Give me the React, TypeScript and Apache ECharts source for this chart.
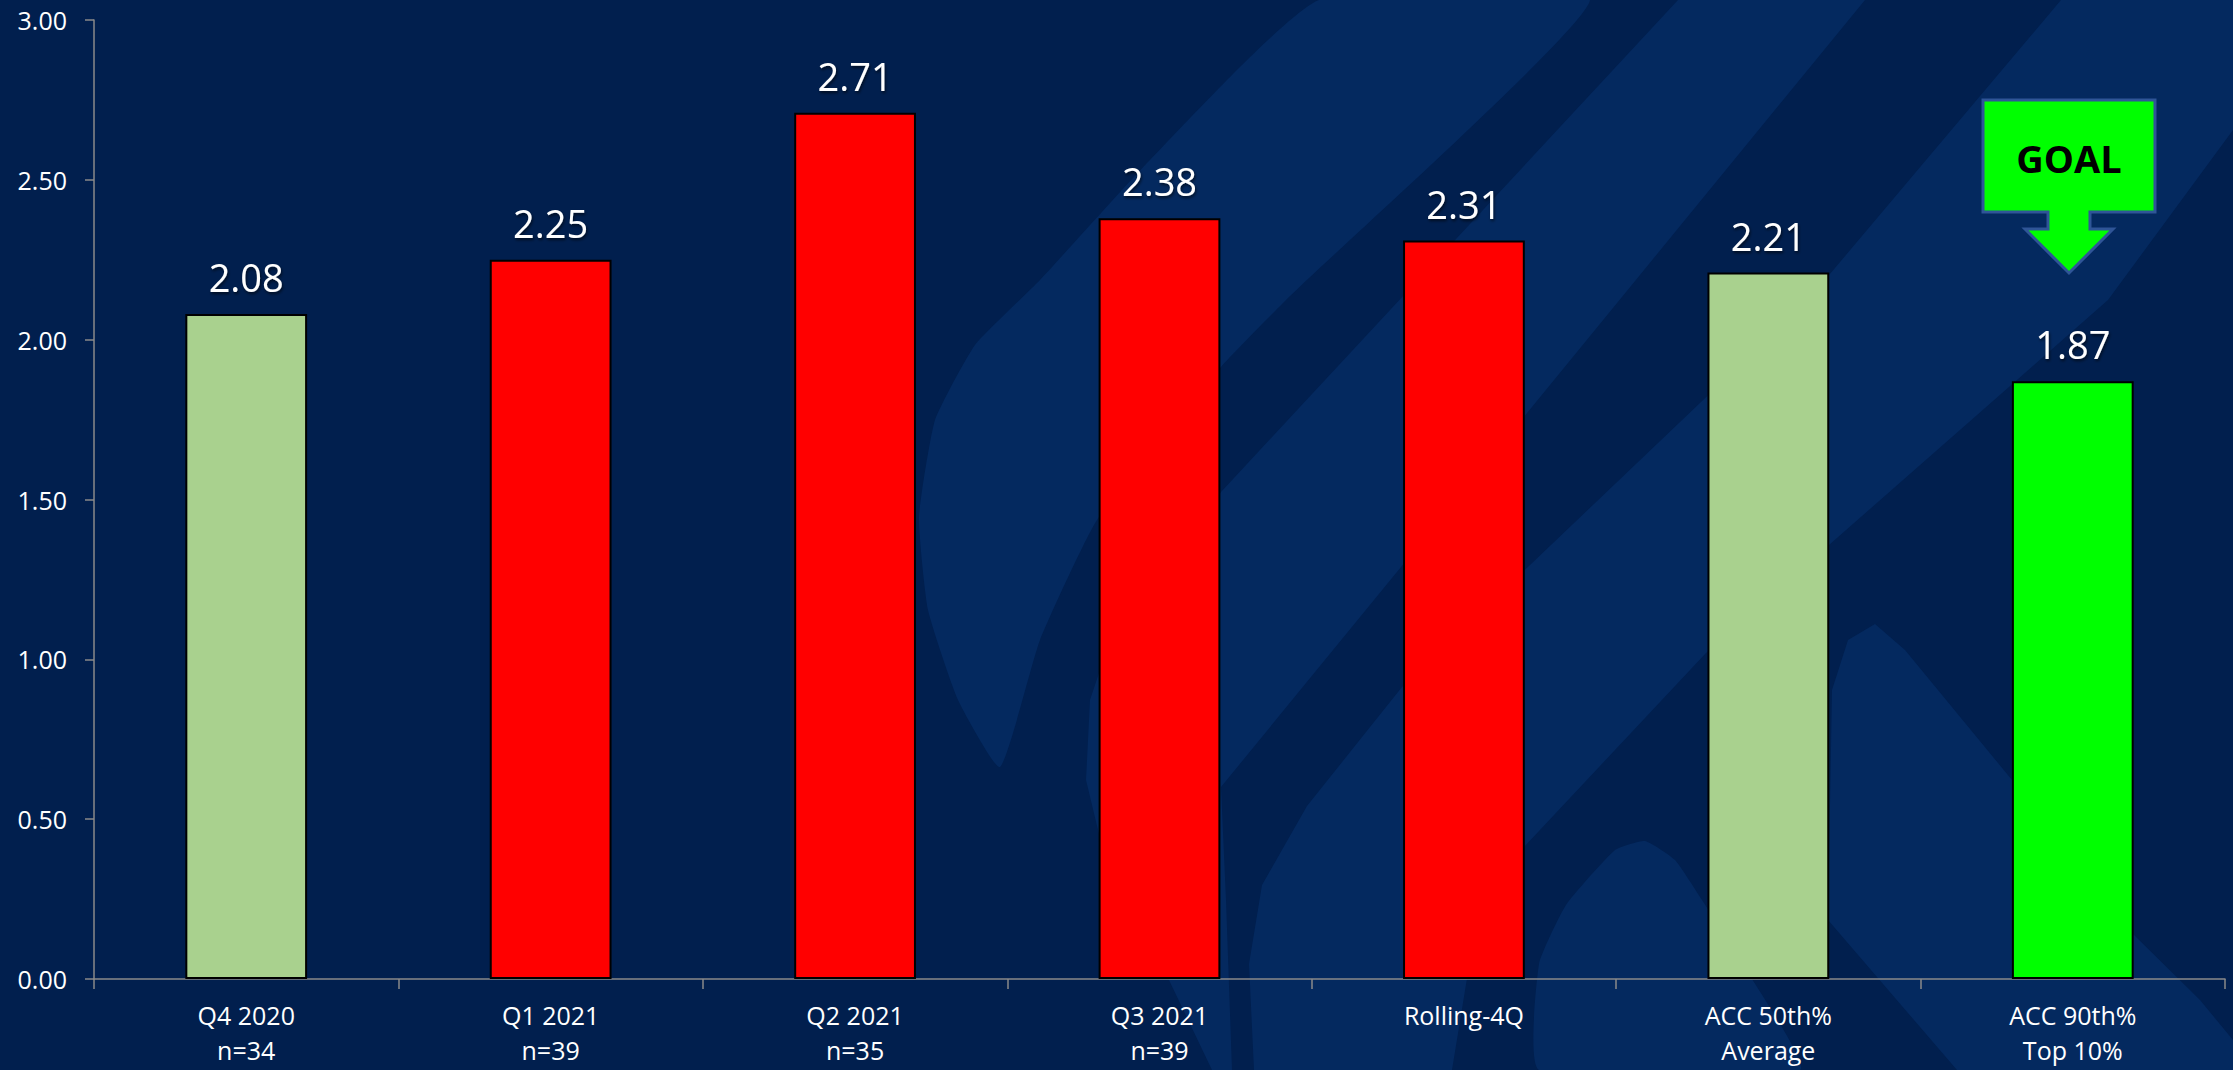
import React, { useEffect, useRef } from "react";
import * as echarts from "echarts";

const categories = [
  "Q4 2020\nn=34",
  "Q1 2021\nn=39",
  "Q2 2021\nn=35",
  "Q3 2021\nn=39",
  "Rolling-4Q",
  "ACC 50th%\nAverage",
  "ACC 90th%\nTop 10%",
];
const values = [2.08, 2.25, 2.71, 2.38, 2.31, 2.21, 1.87];
const barColors = ["#A9D18E", "#FF0000", "#FF0000", "#FF0000", "#FF0000", "#A9D18E", "#00FF00"];
const yMin = 0;
const yMax = 3;
const yInterval = 0.5;
const goalText = "GOAL";

const FONT = "'Open Sans', 'Noto Sans', sans-serif";
const BG = "#011F4E";
const BG_LIGHT = "#04295F";

export default function App() {
  const ref = useRef<HTMLDivElement>(null);

  useEffect(() => {
    document.body.style.margin = "0";
    const chart = echarts.init(ref.current!, null, { renderer: "svg" });

    const bgShape = (points: number[][], smooth?: number) => ({
      type: "polygon",
      silent: true,
      z: -10,
      shape: { points, smooth: smooth || 0 },
      style: { fill: BG_LIGHT },
    });

    const option: any = {
      animation: false,
      backgroundColor: BG,
      grid: { left: 94, right: 8, top: 20, bottom: 91, containLabel: false },
      xAxis: {
        type: "category",
        data: categories,
        axisLine: { show: true, lineStyle: { color: "#8A8A8A", width: 1.5 } },
        axisTick: { show: true, length: 10, lineStyle: { color: "#8A8A8A", width: 1.5 } },
        axisLabel: {
          color: "#FFFFFF",
          fontSize: 25,
          fontFamily: FONT,
          lineHeight: 35,
          margin: 18,
          interval: 0,
        },
        splitLine: { show: false },
      },
      yAxis: {
        type: "value",
        min: yMin,
        max: yMax,
        interval: yInterval,
        axisLine: { show: true, lineStyle: { color: "#8A8A8A", width: 1.5 } },
        axisTick: { show: true, length: 9, lineStyle: { color: "#8A8A8A", width: 1.5 } },
        axisLabel: {
          color: "#FFFFFF",
          fontSize: 25,
          fontFamily: FONT,
          margin: 27,
          formatter: (v: number) => v.toFixed(2),
        },
        splitLine: { show: false },
      },
      series: [
        {
          type: "bar",
          barWidth: "40%",
          data: values.map((v, i) => ({
            value: v,
            itemStyle: { color: barColors[i], borderColor: "#000000", borderWidth: 2 },
          })),
          label: {
            show: true,
            position: "top",
            distance: 18,
            color: "#FFFFFF",
            fontSize: 38,
            fontFamily: FONT,
            textShadowColor: "rgba(0,0,0,0.6)",
            textShadowBlur: 3,
            textShadowOffsetX: 1,
            textShadowOffsetY: 2,
            formatter: (p: any) => Number(p.value).toFixed(2),
          },
        },
      ],
      graphic: [
        // leaf swoosh
        bgShape(
          [
            [1319, 0],
            [1590, 0],
            [1286, 300],
            [1221, 367],
            [1097, 520],
            [1040, 640],
            [1000, 767],
            [958, 700],
            [928, 610],
            [919, 517],
            [935, 420],
            [975, 345],
            [1040, 280],
            [1150, 160],
          ],
          0.15
        ),
        // band B
        bgShape(
          [
            [1678, 0],
            [1865, 0],
            [1401, 567],
            [1221, 787],
            [1226, 900],
            [1232, 1070],
            [1212, 1070],
            [1169, 980],
            [1110, 880],
            [1086, 780],
            [1090, 700],
            [1120, 610],
            [1221, 492],
          ],
          0
        ),
        // band C
        bgShape([
          [2061, 0],
          [2233, 0],
          [2233, 130],
          [2108, 300],
          [1706, 653],
          [1524, 847],
          [1470, 960],
          [1452, 1070],
          [1254, 1070],
          [1249, 964],
          [1262, 885],
          [1307, 806],
          [1402, 687],
          [1808, 300],
        ]),
        // hump 2
        bgShape(
          [
            [1539, 1070],
            [1539, 964],
            [1566, 905],
            [1615, 850],
            [1645, 841],
            [1675, 860],
            [1702, 900],
            [1740, 960],
            [1800, 1070],
          ],
          0.15
        ),
        // hump 1
        bgShape([
          [1832, 690],
          [1848, 640],
          [1875, 624],
          [1905, 650],
          [2012, 780],
          [2132, 933],
          [2200, 1000],
          [2233, 1040],
          [2233, 1070],
          [1957, 1070],
          [1828, 920],
        ]),
        // GOAL arrow callout
        {
          type: "polygon",
          z: 100,
          shape: {
            points: [
              [1983, 100],
              [2155, 100],
              [2155, 212],
              [2090, 212],
              [2090, 229],
              [2113, 229],
              [2069, 273],
              [2025, 229],
              [2048, 229],
              [2048, 212],
              [1983, 212],
            ],
          },
          style: { fill: "#00FF00", stroke: "#2F5597", lineWidth: 3 },
        },
        {
          type: "text",
          z: 101,
          x: 2069,
          y: 158,
          style: {
            text: goalText,
            fill: "#000000",
            fontSize: 38,
            fontWeight: "bold",
            fontFamily: FONT,
            align: "center",
            verticalAlign: "middle",
          },
        },
      ],
    };

    chart.setOption(option);
    return () => chart.dispose();
  }, []);

  return (
    <div
      ref={ref}
      style={{ position: "absolute", left: 0, top: 0, width: 2233, height: 1070 }}
    />
  );
}
